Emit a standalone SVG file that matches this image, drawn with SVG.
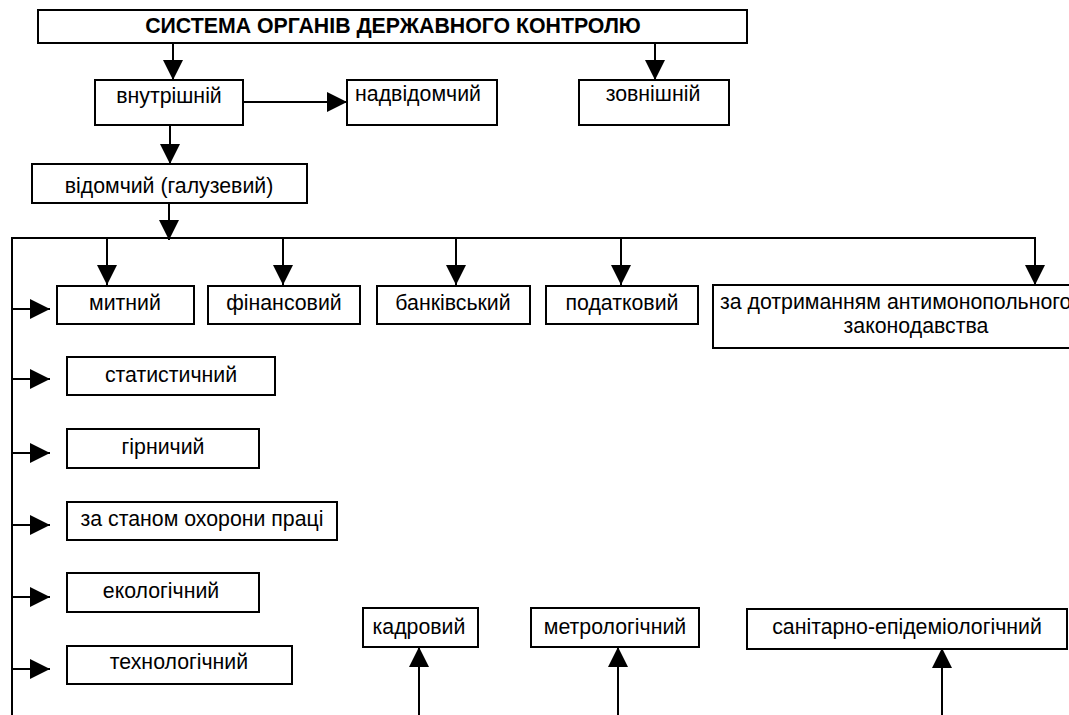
<svg xmlns="http://www.w3.org/2000/svg" width="1069" height="715" viewBox="0 0 1069 715">
<style>
.box{fill:#fff;stroke:#000;stroke-width:2}
.t{font-family:"Liberation Sans",Arial,sans-serif;font-size:21.3px;fill:#000;text-anchor:middle}
.title{font-weight:bold}
.ln{stroke:#000;stroke-width:2;fill:none}
.ar{stroke:#000;stroke-width:2;fill:none;marker-end:url(#ah)}
</style>
<defs>
<marker id="ah" markerUnits="userSpaceOnUse" markerWidth="20" markerHeight="20" refX="20" refY="10" orient="auto" viewBox="0 0 20 20">
<path d="M0,0 L20,10 L0,20 z" fill="#000"/>
</marker>
</defs>
<rect width="1069" height="715" fill="#fff"/>
<g id="connectors">
<line class="ar" x1="173" y1="43" x2="173" y2="80"/>
<line class="ar" x1="655" y1="43" x2="655" y2="80"/>
<line class="ar" x1="243" y1="102" x2="347" y2="102"/>
<line class="ar" x1="170" y1="125" x2="170" y2="164"/>
<line class="ar" x1="169" y1="203" x2="169" y2="240"/>
<path class="ln" d="M12,715 L12,238 L1035,238"/>
<line class="ar" x1="107" y1="238" x2="107" y2="285"/>
<line class="ar" x1="283" y1="238" x2="283" y2="285"/>
<line class="ar" x1="456" y1="238" x2="456" y2="285"/>
<line class="ar" x1="621" y1="238" x2="621" y2="285"/>
<line class="ar" x1="1035" y1="237" x2="1035" y2="285"/>
<line class="ar" x1="12" y1="309" x2="50" y2="309"/>
<line class="ar" x1="12" y1="379" x2="50" y2="379"/>
<line class="ar" x1="12" y1="453" x2="50" y2="453"/>
<line class="ar" x1="12" y1="525" x2="50" y2="525"/>
<line class="ar" x1="12" y1="597" x2="50" y2="597"/>
<line class="ar" x1="12" y1="669" x2="50" y2="669"/>
<line class="ar" x1="419" y1="715" x2="419" y2="647"/>
<line class="ar" x1="618" y1="715" x2="618" y2="647"/>
<line class="ar" x1="942" y1="715" x2="942" y2="648"/>
</g>
<g id="n-title"><rect class="box" x="38" y="10" width="709" height="33"/><text class="t title" x="393" y="33">СИСТЕМА ОРГАНІВ ДЕРЖАВНОГО КОНТРОЛЮ</text></g>
<g id="n-vnutr"><rect class="box" x="95" y="80" width="148" height="45"/><text class="t" x="169" y="103">внутрішній</text></g>
<g id="n-nadv"><rect class="box" x="347" y="80" width="150" height="45"/><text class="t" x="418" y="101">надвідомчий</text></g>
<g id="n-zovn"><rect class="box" x="579" y="80" width="150" height="45"/><text class="t" x="653" y="101">зовнішній</text></g>
<g id="n-vidom"><rect class="box" x="32" y="164" width="275" height="39"/><text class="t" x="169" y="193">відомчий (галузевий)</text></g>
<g id="n-mytn"><rect class="box" x="57" y="286" width="137" height="38"/><text class="t" x="125" y="310">митний</text></g>
<g id="n-fin"><rect class="box" x="208" y="286" width="152" height="38"/><text class="t" x="284" y="310">фінансовий</text></g>
<g id="n-bank"><rect class="box" x="377" y="286" width="153" height="38"/><text class="t" x="453" y="310">банківський</text></g>
<g id="n-podat"><rect class="box" x="546" y="286" width="152" height="38"/><text class="t" x="622" y="310">податковий</text></g>
<g id="n-antimon"><rect class="box" x="713" y="285" width="406" height="63"/><text class="t" x="720" y="309" style="text-anchor:start">за дотриманням антимонопольного</text><text class="t" x="916" y="333">законодавства</text></g>
<g id="n-stat"><rect class="box" x="67" y="357" width="208" height="38"/><text class="t" x="171" y="382">статистичний</text></g>
<g id="n-girn"><rect class="box" x="67" y="429" width="192" height="39"/><text class="t" x="163" y="454">гірничий</text></g>
<g id="n-okh"><rect class="box" x="67" y="502" width="270" height="38"/><text class="t" x="202" y="526">за станом охорони праці</text></g>
<g id="n-ekol"><rect class="box" x="67" y="573" width="192" height="39"/><text class="t" x="161" y="598">екологічний</text></g>
<g id="n-tekh"><rect class="box" x="67" y="646" width="225" height="38"/><text class="t" x="179" y="669">технологічний</text></g>
<g id="n-kadr"><rect class="box" x="363" y="608" width="115" height="39"/><text class="t" x="419" y="634">кадровий</text></g>
<g id="n-metr"><rect class="box" x="531" y="608" width="168" height="39"/><text class="t" x="615" y="634">метрологічний</text></g>
<g id="n-sanit"><rect class="box" x="747" y="609" width="320" height="40"/><text class="t" x="907" y="634">санітарно-епідеміологічний</text></g>
</svg>
